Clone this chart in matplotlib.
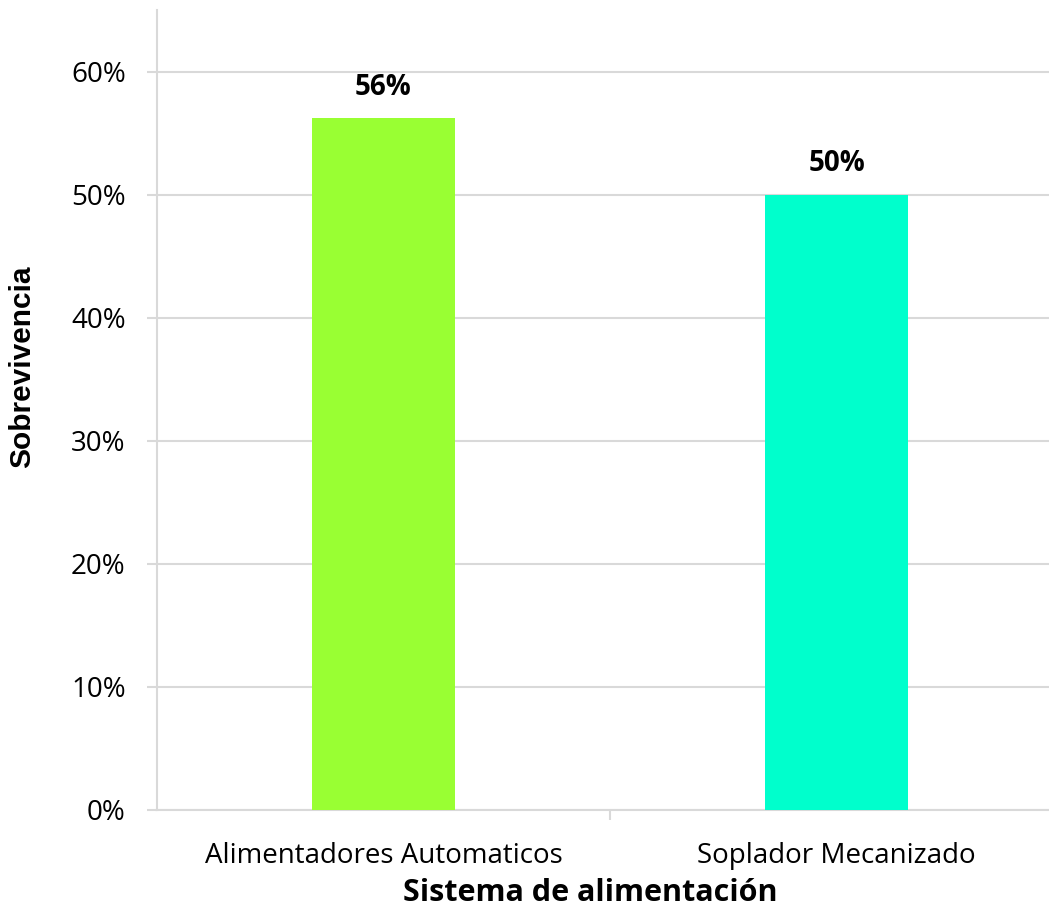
import matplotlib.pyplot as plt
from matplotlib.ticker import PercentFormatter, FixedLocator
from matplotlib.font_manager import FontProperties

# Survival by feeding system
categories = ['Alimentadores Automaticos', 'Soplador Mecanizado']
survival = [0.562, 0.50]
labels = ['56%', '50%']
bar_colors = ['#99FF33', '#00FFCC']

grid_color = '#D9D9D9'

fig = plt.figure(figsize=(10.49, 9.19), dpi=100)
# axes runs a little past the right edge of the canvas
ax = fig.add_axes([157 / 1049, 1 - 810 / 919, 906 / 1049, 800 / 919])

x = list(range(len(categories)))
bars = ax.bar(x, survival, width=0.316, color=bar_colors, zorder=3)

for bar, txt in zip(bars, labels):
    ax.annotate(txt, xy=(bar.get_x() + bar.get_width() / 2, bar.get_height()),
                xytext=(0, 12), textcoords='offset points',
                ha='center', va='bottom', fontsize=20, fontweight='bold',
                family='Open Sans')

ax.set_xlim(-0.5, 1.5)
ax.set_ylim(0, 0.65)
ax.set_yticks([0, 0.1, 0.2, 0.3, 0.4, 0.5, 0.6])
ax.yaxis.set_major_formatter(PercentFormatter(1.0, decimals=0))
ax.yaxis.grid(True, color=grid_color, linewidth=1.5, zorder=0)
ax.set_axisbelow(True)

# category labels centred, separator tick between them
ax.set_xticks(x)
ax.set_xticklabels(categories)
ax.xaxis.set_minor_locator(FixedLocator([0.5]))
ax.tick_params(axis='x', which='major', length=0, pad=23, labelsize=20)
ax.tick_params(axis='x', which='minor', length=7.5, width=1.5, color=grid_color)
ax.tick_params(axis='y', length=7.5, width=1.5, color=grid_color, pad=15, labelsize=20)
for lbl in ax.get_xticklabels() + ax.get_yticklabels():
    lbl.set_family('Open Sans')

for side in ['top', 'right']:
    ax.spines[side].set_visible(False)
for side in ['left', 'bottom']:
    ax.spines[side].set_color(grid_color)
    ax.spines[side].set_linewidth(1.5)

ylab_font = FontProperties(family='Liberation Sans', weight='bold', size=21.5)
fig.text(22 / 1049, 1 - 367 / 919, 'Sobrevivencia', rotation=90,
         ha='center', va='center', fontproperties=ylab_font)
fig.text(590 / 1049, 1 - 893 / 919, 'Sistema de alimentación', ha='center', va='center',
         fontsize=22, fontweight='bold', family='Open Sans')

fig.savefig('out.png', dpi=100)
